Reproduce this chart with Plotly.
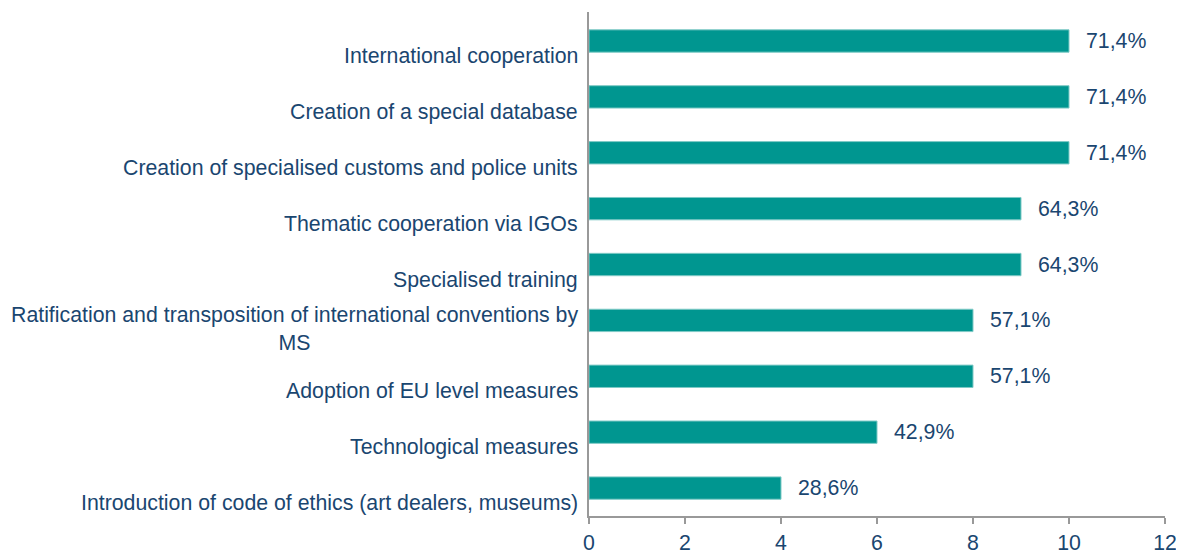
import plotly.graph_objects as go

categories = [
    "International cooperation",
    "Creation of a special database",
    "Creation of specialised customs and police units",
    "Thematic cooperation via IGOs",
    "Specialised training",
    "Ratification and transposition of international conventions by<br>MS",
    "Adoption of EU level measures",
    "Technological measures",
    "Introduction of code of ethics (art dealers, museums)",
]
values = [10, 10, 10, 9, 9, 8, 8, 6, 4]
value_labels = ["71,4%", "71,4%", "71,4%", "64,3%", "64,3%", "57,1%", "57,1%", "42,9%", "28,6%"]
x_ticks = [0, 2, 4, 6, 8, 10, 12]

FONT = "Arial, 'Liberation Sans', sans-serif"
FS = 21.3
TEXT = "#1A4670"
BAR = "#009690"
AXIS = "#999999"

fig = go.Figure()
fig.add_trace(go.Bar(
    x=values,
    y=categories,
    orientation="h",
    marker=dict(color=BAR, line=dict(color="#7fcac6", width=1)),
    width=0.4,
    hoverinfo="skip",
))

annotations = []
for cat, v, lab in zip(categories, values, value_labels):
    annotations.append(dict(
        x=v, y=cat, xref="x", yref="y", text=lab, showarrow=False,
        xanchor="left", yanchor="middle", xshift=15,
        font=dict(family=FONT, size=FS, color=TEXT),
    ))
    nlines = cat.count("<br>") + 1
    annotations.append(dict(
        x=0, y=cat, xref="paper", yref="y", text=cat, showarrow=False,
        xanchor="right", yanchor="middle", xshift=-9,
        yshift=-15 + (nlines - 1) * 6, align="center",
        font=dict(family=FONT, size=FS, color=TEXT),
    ))

fig.update_layout(
    width=1176, height=551,
    margin=dict(l=581, r=19, t=4, b=37),
    paper_bgcolor="white", plot_bgcolor="white",
    showlegend=False,
    annotations=annotations,
    font=dict(family=FONT, size=FS, color=TEXT),
)
fig.update_xaxes(
    range=[0, 12], tickvals=x_ticks, ticktext=[str(t) for t in x_ticks],
    showgrid=False, zeroline=False,
    showline=True, linecolor=AXIS, linewidth=2,
    ticks="outside", ticklen=6, tickcolor=AXIS, tickwidth=2,
    tickfont=dict(family=FONT, size=FS, color=TEXT),
)
fig.update_yaxes(
    categoryorder="array", categoryarray=categories, autorange="reversed",
    showticklabels=False, showgrid=False, zeroline=False,
    showline=True, linecolor=AXIS, linewidth=2, ticks="",
)

fig.write_html("out.html")
